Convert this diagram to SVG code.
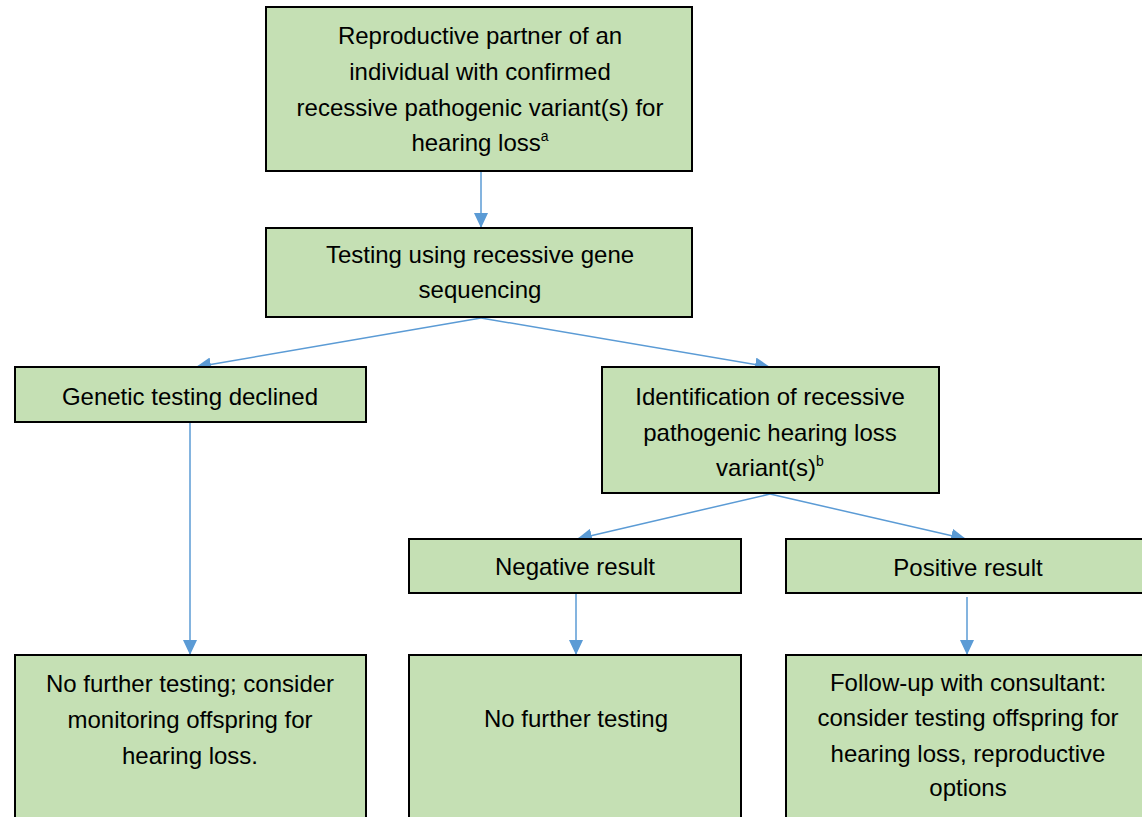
<svg xmlns="http://www.w3.org/2000/svg" width="1142" height="817" viewBox="0 0 1142 817">
<style>
.box{fill:#C5E0B4;stroke:#000;stroke-width:2}
.t{font-family:"Liberation Sans",Arial,sans-serif;font-size:24px;fill:#000;text-anchor:middle}
.c{fill:none;stroke:#5B9BD5;stroke-width:1.5;marker-end:url(#ah)}
</style>
<defs>
<marker id="ah" markerUnits="userSpaceOnUse" markerWidth="16" markerHeight="14" refX="15" refY="7" orient="auto">
<path d="M0,0 L15,7 L0,14 Z" fill="#5B9BD5"/>
</marker>
</defs>
<rect width="1142" height="817" fill="#fff"/>
<g id="connectors">
<line class="c" x1="481" y1="171" x2="481" y2="228"/>
<line class="c" x1="481" y1="318" x2="196" y2="367"/>
<line class="c" x1="481" y1="318" x2="770" y2="367"/>
<line class="c" x1="190" y1="423" x2="190" y2="655"/>
<line class="c" x1="770" y1="494" x2="577" y2="539"/>
<line class="c" x1="770" y1="494" x2="966" y2="539"/>
<line class="c" x1="576" y1="594" x2="576" y2="655"/>
<line class="c" x1="967" y1="597" x2="967" y2="655"/>
</g>
<g id="n1">
<rect class="box" x="266" y="7" width="426" height="164"/>
<text class="t" x="480" y="44">Reproductive partner of an</text>
<text class="t" x="480" y="80">individual with confirmed</text>
<text class="t" x="480" y="116">recessive pathogenic variant(s) for</text>
<text class="t" x="480" y="151">hearing loss<tspan font-size="14" dy="-10">a</tspan></text>
</g>
<g id="n2">
<rect class="box" x="266" y="228" width="426" height="89"/>
<text class="t" x="480" y="263">Testing using recessive gene</text>
<text class="t" x="480" y="298">sequencing</text>
</g>
<g id="n3">
<rect class="box" x="15" y="367" width="351" height="55"/>
<text class="t" x="190" y="405">Genetic testing declined</text>
</g>
<g id="n4">
<rect class="box" x="602" y="367" width="337" height="126"/>
<text class="t" x="770" y="405">Identification of recessive</text>
<text class="t" x="770" y="441">pathogenic hearing loss</text>
<text class="t" x="770" y="476">variant(s)<tspan font-size="14" dy="-10">b</tspan></text>
</g>
<g id="n5">
<rect class="box" x="409" y="539" width="332" height="54"/>
<text class="t" x="575" y="575">Negative result</text>
</g>
<g id="n6">
<rect class="box" x="786" y="539" width="370" height="54"/>
<text class="t" x="968" y="576">Positive result</text>
</g>
<g id="n7">
<rect class="box" x="15" y="655" width="351" height="180"/>
<text class="t" x="190" y="692">No further testing; consider</text>
<text class="t" x="190" y="728">monitoring offspring for</text>
<text class="t" x="190" y="764">hearing loss.</text>
</g>
<g id="n8">
<rect class="box" x="409" y="655" width="332" height="180"/>
<text class="t" x="576" y="727">No further testing</text>
</g>
<g id="n9">
<rect class="box" x="786" y="655" width="370" height="180"/>
<text class="t" x="968" y="691">Follow-up with consultant:</text>
<text class="t" x="968" y="726">consider testing offspring for</text>
<text class="t" x="968" y="762">hearing loss, reproductive</text>
<text class="t" x="968" y="796">options</text>
</g>
</svg>
